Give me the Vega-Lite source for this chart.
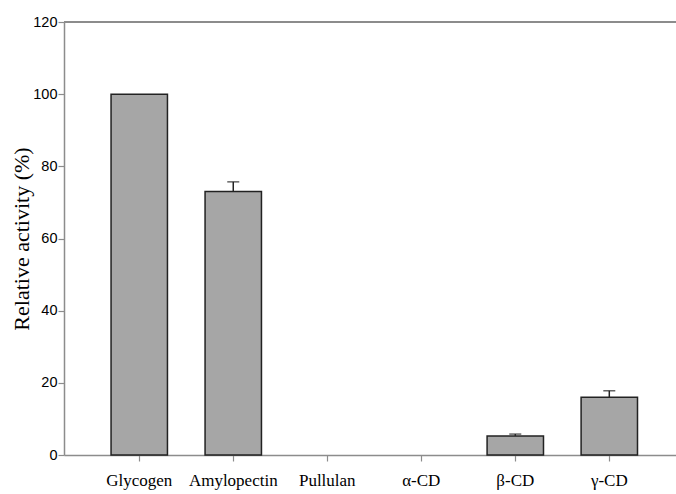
{
  "$schema": "https://vega.github.io/schema/vega-lite/v6.json",
  "width": 612,
  "height": 433,
  "autosize": {"type": "none"},
  "padding": {"left": 64, "top": 22, "right": 0, "bottom": 39},
  "background": "white",
  "config": {"view": {"stroke": null}},
  "data": {
    "values": [
      {"substrate": "Glycogen", "activity": 100},
      {"substrate": "Amylopectin", "activity": 73, "upper": 75.7},
      {"substrate": "Pullulan", "activity": 0},
      {"substrate": "α-CD", "activity": 0},
      {"substrate": "β-CD", "activity": 5.3, "upper": 5.8},
      {"substrate": "γ-CD", "activity": 16, "upper": 17.8}
    ]
  },
  "encoding": {
    "x": {
      "field": "substrate",
      "type": "nominal",
      "sort": null,
      "scale": {"paddingInner": 0.4, "paddingOuter": 0.455, "align": 0.55},
      "axis": {
        "title": null,
        "labelAngle": 0,
        "labelFont": "Liberation Serif",
        "labelFontSize": 17,
        "labelColor": "black",
        "labelPadding": 11,
        "domainColor": "#8c8c8c",
        "domainWidth": 1.5,
        "tickColor": "#8c8c8c",
        "tickSize": 6,
        "tickWidth": 1.2
      }
    }
  },
  "layer": [
    {
      "mark": {"type": "rule", "color": "#8c8c8c", "strokeWidth": 1.5},
      "encoding": {"y": {"datum": 120, "type": "quantitative", "scale": {"domain": [0, 120]}}, "x": null}
    },
    {
      "mark": {"type": "bar", "fill": "#a6a6a6", "stroke": "#222222", "strokeWidth": 1.5},
      "encoding": {
        "y": {
          "field": "activity",
          "type": "quantitative",
          "scale": {"domain": [0, 120], "nice": false},
          "axis": {
            "values": [0, 20, 40, 60, 80, 100, 120],
            "title": "Relative activity (%)",
            "titleFont": "Liberation Serif",
            "titleFontSize": 22,
            "titleFontWeight": "normal",
            "titleColor": "black",
            "titleX": -31,
            "titleY": 216.5,
            "labelFont": "Liberation Sans",
            "labelFontSize": 14.5,
            "labelColor": "black",
            "labelPadding": 1,
            "grid": false,
            "domainColor": "#8c8c8c",
            "domainWidth": 1.5,
            "tickColor": "#8c8c8c",
            "tickSize": 6,
            "tickWidth": 1.2
          }
        },
        "strokeOpacity": {"condition": {"test": "datum.activity > 0", "value": 1}, "value": 0}
      }
    },
    {
      "transform": [{"filter": "isValid(datum.upper)"}],
      "mark": {"type": "rule", "color": "#222222", "strokeWidth": 1.5},
      "encoding": {
        "y": {"field": "activity", "type": "quantitative"},
        "y2": {"field": "upper"}
      }
    },
    {
      "transform": [{"filter": "isValid(datum.upper)"}],
      "mark": {"type": "tick", "color": "#222222", "size": 12, "thickness": 1.5, "orient": "horizontal"},
      "encoding": {
        "y": {"field": "upper", "type": "quantitative"}
      }
    }
  ]
}
